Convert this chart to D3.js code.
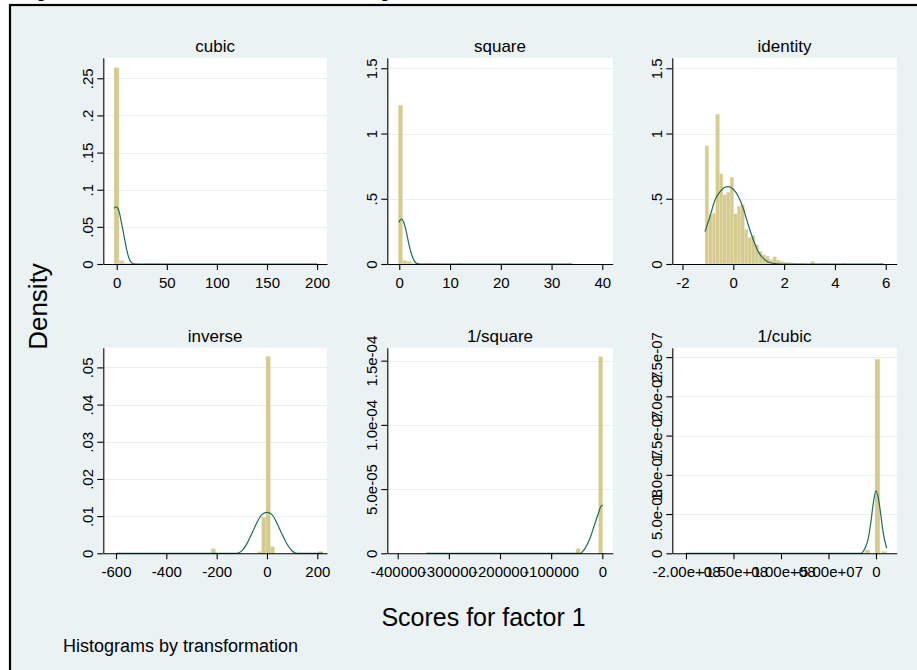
<!DOCTYPE html>
<html>
<head>
<meta charset="utf-8">
<script src="https://cdn.jsdelivr.net/npm/d3@7"></script>
<style>
  body { margin: 0; background: #fff; }
  svg { display: block; }
  text { font-family: "Liberation Sans", Arial, sans-serif; fill: #000; }
</style>
</head>
<body>
<div id="chart"></div>
<script>
// panel titles, in row order
const panelTitles = ['cubic', 'square', 'identity', 'inverse', '1/square', '1/cubic'];

// histogram bars: [left edge, density], one bin width per panel
const cubicBinWidth = 5;
const cubicBars = [[-2.7, 0.2643], [2.3, 0.0045], [7.3, 0.0012], [12.3, 0.0006], [17.3, 0.0004],
  [27.3, 0.0003], [32.3, 0.0002], [37.3, 0.0003], [42.3, 0.0001], [197.3, 0.0001]];
const squareBinWidth = 0.85;
const squareBars = [[-0.2, 1.217], [0.65, 0.028], [1.5, 0.02], [2.35, 0.006], [3.2, 0.004],
  [4.05, 0.003], [4.9, 0.003], [5.75, 0.002], [6.6, 0.002], [7.45, 0.001], [11.7, 0.002], [33.5, 0.001]];
const identityBinWidth = 0.1404;
const identityBars = [[-1.11, 0.906], [-0.97, 0.378], [-0.829, 0.39], [-0.689, 1.148], [-0.548, 0.69],
  [-0.408, 0.53], [-0.268, 0.55], [-0.127, 0.665], [0.013, 0.385], [0.154, 0.44], [0.294, 0.455],
  [0.434, 0.265], [0.575, 0.205], [0.715, 0.22], [0.856, 0.148], [0.996, 0.097], [1.136, 0.07],
  [1.277, 0.06], [1.417, 0.035], [1.558, 0.055], [1.698, 0.03], [1.838, 0.02], [1.979, 0.012],
  [2.119, 0.01], [2.26, 0.008], [2.4, 0.006], [2.54, 0.005], [2.68, 0.004], [3.05, 0.02],
  [3.5, 0.003], [4.3, 0.002], [5.77, 0.003]];
const inverseBinWidth = 17;
const inverseBars = [[-596, 0.0001], [-222, 0.0012], [-38, 0.0004], [-21, 0.0097], [-4, 0.0529],
  [13, 0.0018], [205, 0.0005]];
const invSquareBinWidth = 7800;
const invSquareBars = [[-344000, 0.0000002], [-51400, 0.0000039], [-7000, 0.0001531]];
const invCubicBinWidth = 5200000;
const invCubicBars = [[-11600000, 0.0000000042], [-1050000, 0.0000002474], [6000000, 0.0000000023]];

// overlaid density curves: [x, density]
const cubicCurve = [[-2.7, 0.075], [-1.3, 0.0765], [0, 0.0767], [1.5, 0.074], [3, 0.067], [4.5, 0.057],
  [5.6, 0.05], [7, 0.04], [8.5, 0.029], [10, 0.019], [11.5, 0.011], [13.3, 0.0045], [15, 0.0015],
  [17, 0.0003], [20, 0], [200, 0]];
const squareCurve = [[-0.06, 0.319], [0.2, 0.338], [0.47, 0.345], [0.93, 0.314], [1.45, 0.237],
  [1.91, 0.148], [2.44, 0.071], [2.9, 0.028], [3.43, 0.005], [4.1, 0], [34, 0]];
const identityCurve = [[-1.11, 0.248], [-0.92, 0.363], [-0.72, 0.49], [-0.52, 0.555], [-0.33, 0.588],
  [-0.2, 0.593], [0, 0.573], [0.2, 0.517], [0.39, 0.427], [0.59, 0.3], [0.79, 0.184], [0.98, 0.095],
  [1.18, 0.043], [1.38, 0.015], [1.57, 0.005], [1.9, 0], [5.9, 0]];
const inverseCurve = [[-596, 0], [-119, 0], [-99, 0.0007], [-79.5, 0.0026], [-59.6, 0.0054],
  [-39.7, 0.0083], [-19.9, 0.0104], [0, 0.011], [19.9, 0.0104], [39.7, 0.0081], [59.6, 0.0052],
  [79.5, 0.0025], [99, 0.0007], [109, 0.0002], [120, 0], [222, 0]];
const invSquareCurve = [[-344000, 0], [-43600, 0], [-33800, 0.0000039], [-24000, 0.0000117],
  [-14300, 0.0000234], [-7800, 0.000031], [-3100, 0.0000363], [800, 0.0000376]];
const invCubicCurve = [[-200000000, 0], [-16100000, 0], [-11600000, 0.0000000064], [-8100000, 0.000000019],
  [-5600000, 0.000000038], [-2800000, 0.000000064], [0, 0.0000000795], [2800000, 0.000000068],
  [5300000, 0.000000047], [7700000, 0.0000000255], [11300000, 0.0000000064]];

// axis ranges and ticks
const xDomains = [[-13.4, 209.9], [-2.36, 42.05], [-2.40, 6.43], [-650.5, 238.5], [-420300, 20300], [-214400000, 21800000]];
const yDomains = [[0, 0.2777], [0, 1.581], [0, 1.581], [0, 0.0553], [0, 0.0001601], [0, 0.000000262]];
const xTicks = [[0, 50, 100, 150, 200], [0, 10, 20, 30, 40], [-2, 0, 2, 4, 6], [-600, -400, -200, 0, 200],
  [-400000, -300000, -200000, -100000, 0], [-200000000, -150000000, -100000000, -50000000, 0]];
const xTickLabels = [['0', '50', '100', '150', '200'], ['0', '10', '20', '30', '40'], ['-2', '0', '2', '4', '6'],
  ['-600', '-400', '-200', '0', '200'], ['-400000', '-300000', '-200000', '-100000', '0'],
  ['-2.00e+08', '-1.50e+08', '-1.00e+08', '-5.00e+07', '0']];
const yTicks = [[0, 0.05, 0.1, 0.15, 0.2, 0.25], [0, 0.5, 1, 1.5], [0, 0.5, 1, 1.5],
  [0, 0.01, 0.02, 0.03, 0.04, 0.05], [0, 0.00005, 0.0001, 0.00015],
  [0, 0.00000005, 0.0000001, 0.00000015, 0.0000002, 0.00000025]];
const yTickLabels = [['0', '.05', '.1', '.15', '.2', '.25'], ['0', '.5', '1', '1.5'], ['0', '.5', '1', '1.5'],
  ['0', '.01', '.02', '.03', '.04', '.05'], ['0', '5.0e-05', '1.0e-04', '1.5e-04'],
  ['0', '5.0e-08', '1.0e-07', '1.5e-07', '2.0e-07', '2.5e-07']];

const allBars = [cubicBars, squareBars, identityBars, inverseBars, invSquareBars, invCubicBars];
const binWidths = [cubicBinWidth, squareBinWidth, identityBinWidth, inverseBinWidth, invSquareBinWidth, invCubicBinWidth];
const allCurves = [cubicCurve, squareCurve, identityCurve, inverseCurve, invSquareCurve, invCubicCurve];

const W = 917, H = 670;
const bg = '#eaf2f3';
const barFill = '#d6cb8e';
const barEdge = '#e9e2bb';
const lineColor = '#1f6b5c';
const tickFont = '15px';

// plot regions (left, right) per column and (top, bottom) per row
const cols = [[103.3, 327], [387.3, 612.7], [672.3, 896.7]];
const rows = [[57.7, 264], [347.7, 553.3]];

const svg = d3.select('#chart').append('svg')
  .attr('width', W)
  .attr('height', H);

// caption above the frame, mostly cut off by the top edge
svg.append('text')
  .attr('x', 23)
  .attr('y', -1.8)
  .attr('font-size', '15.1px')
  .attr('font-weight', 'bold')
  .text('Figure 3: Transformations of the factor score using the ladder of transformations');

// graph region with its frame
svg.append('rect')
  .attr('x', 10)
  .attr('y', 5)
  .attr('width', W + 20)
  .attr('height', H + 20)
  .attr('fill', bg)
  .attr('stroke', '#000')
  .attr('stroke-width', 2.2);

panelTitles.forEach((title, i) => {
  const [x0, x1] = cols[i % 3];
  const [y0, y1] = rows[Math.floor(i / 3)];
  const x = d3.scaleLinear().domain(xDomains[i]).range([x0, x1]);
  const y = d3.scaleLinear().domain(yDomains[i]).range([y1, y0]);

  const g = svg.append('g').attr('class', 'panel');

  g.append('rect')
    .attr('x', x0)
    .attr('y', y0)
    .attr('width', x1 - x0)
    .attr('height', y1 - y0)
    .attr('fill', '#fff');

  // gridlines
  g.selectAll('.grid')
    .data(yTicks[i].filter(v => v > 0))
    .enter()
    .append('line')
    .attr('x1', x0)
    .attr('x2', x1)
    .attr('y1', d => Math.round(y(d)) + 0.5)
    .attr('y2', d => Math.round(y(d)) + 0.5)
    .attr('stroke', '#e6eff1')
    .attr('stroke-width', 1.2);

  const w = binWidths[i];
  g.selectAll('.bar')
    .data(allBars[i])
    .enter()
    .append('rect')
    .attr('class', 'bar')
    .attr('x', d => x(d[0]))
    .attr('width', d => Math.max(0.8, x(d[0] + w) - x(d[0])))
    .attr('y', d => y(d[1]))
    .attr('height', d => y(0) - y(d[1]))
    .attr('fill', barFill)
    .attr('stroke', barEdge)
    .attr('stroke-width', 0.5);

  g.append('path')
    .datum(allCurves[i])
    .attr('d', d3.line().x(d => x(d[0])).y(d => y(d[1])).curve(d3.curveMonotoneX))
    .attr('fill', 'none')
    .attr('stroke', lineColor)
    .attr('stroke-width', 1.2);

  const xLabels = xTickLabels[i];
  const xAxis = g.append('g')
    .attr('transform', `translate(0,${y1})`)
    .call(d3.axisBottom(x)
      .tickValues(xTicks[i])
      .tickSize(6)
      .tickSizeOuter(0)
      .tickFormat((d, k) => xLabels[k]));
  xAxis.selectAll('text')
    .attr('y', 24)
    .attr('dy', 0)
    .attr('font-size', tickFont)
    .attr('font-family', '"Liberation Sans", Arial, sans-serif')
    .attr('fill', '#000');

  const yLabels = yTickLabels[i];
  const yAxis = g.append('g')
    .attr('transform', `translate(${x0},0)`)
    .call(d3.axisLeft(y)
      .tickValues(yTicks[i])
      .tickSize(6)
      .tickSizeOuter(0)
      .tickFormat((d, k) => yLabels[k]));
  yAxis.selectAll('text')
    .attr('transform', 'rotate(-90)')
    .attr('x', 0)
    .attr('y', -10)
    .attr('dy', 0)
    .attr('text-anchor', 'middle')
    .attr('font-size', tickFont)
    .attr('font-family', '"Liberation Sans", Arial, sans-serif')
    .attr('fill', '#000');

  [xAxis, yAxis].forEach(a => {
    a.selectAll('path, line').attr('stroke', '#000').attr('stroke-width', 1.1);
  });

  g.append('text')
    .attr('x', (x0 + x1) / 2)
    .attr('y', y0 - 6)
    .attr('text-anchor', 'middle')
    .attr('font-size', '17px')
    .text(title);
});

svg.append('text')
  .attr('transform', 'translate(47,306.5) rotate(-90)')
  .attr('text-anchor', 'middle')
  .attr('font-size', '26px')
  .text('Density');

svg.append('text')
  .attr('x', 483.5)
  .attr('y', 626)
  .attr('text-anchor', 'middle')
  .attr('font-size', '25px')
  .text('Scores for factor 1');

svg.append('text')
  .attr('x', 63)
  .attr('y', 652)
  .attr('font-size', '18px')
  .text('Histograms by transformation');
</script>
</body>
</html>
